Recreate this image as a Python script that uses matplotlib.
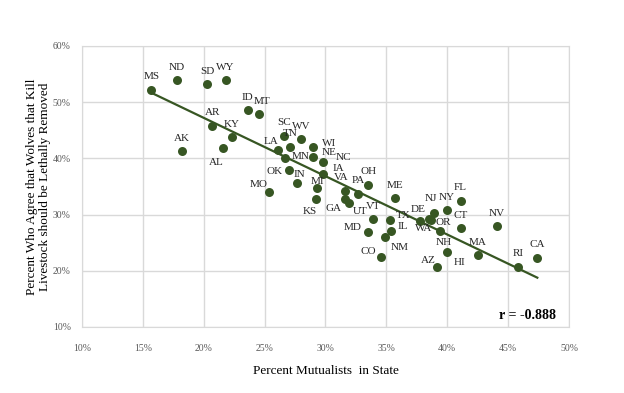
import numpy as np
import matplotlib
matplotlib.use("Agg")
import matplotlib.pyplot as plt
from matplotlib.ticker import PercentFormatter

plt.rcParams['font.family'] = ['Liberation Serif', 'DejaVu Serif']

# state, percent mutualists, percent agree lethal removal
states = ['MS', 'ND', 'SD', 'WY', 'ID', 'MT', 'AR', 'KY', 'AK', 'AL',
          'SC', 'TN', 'WV', 'LA', 'MN', 'WI', 'NE', 'NC', 'IA', 'OK',
          'IN', 'MO', 'MI', 'KS', 'VA', 'PA', 'OH', 'GA', 'UT', 'VT',
          'ME', 'MD', 'TX', 'IL', 'NM', 'CO', 'DE', 'NJ', 'NY', 'CT',
          'FL', 'WA', 'OR', 'NH', 'AZ', 'HI', 'MA', 'NV', 'RI', 'CA']
mutualists = [15.7, 17.8, 20.3, 21.8, 23.6, 24.5, 20.7, 22.3, 18.2, 21.6,
              26.6, 27.1, 28.0, 26.1, 26.7, 29.0, 29.0, 29.8, 29.8, 27.0,
              27.7, 25.4, 29.3, 29.2, 31.6, 32.7, 33.5, 31.6, 31.9, 33.9,
              35.7, 33.5, 35.3, 35.4, 34.9, 34.6, 37.8, 38.9, 40.0, 41.1,
              41.1, 38.7, 39.4, 40.0, 39.2, 38.5, 42.5, 44.1, 45.8, 47.4]
agree = [52.2, 53.9, 53.2, 53.9, 48.6, 47.9, 45.8, 43.8, 41.3, 41.8,
         44.0, 42.1, 43.4, 41.5, 40.1, 42.0, 40.3, 39.4, 37.3, 37.9,
         35.7, 34.1, 34.7, 32.8, 34.2, 33.7, 35.3, 32.7, 32.1, 29.2,
         32.9, 26.9, 29.0, 27.1, 26.0, 22.5, 28.9, 30.2, 30.8, 27.6,
         32.5, 29.0, 27.0, 23.4, 20.7, 29.3, 22.8, 27.9, 20.7, 22.3]
r_value = -0.888

# label offsets in pixels (dx, dy), default is above the dot
label_offsets = {
    'MT': (3, 12), 'AL': (-7, -14), 'LA': (-7, 8), 'MN': (15, 1),
    'WI': (16, 4), 'NE': (16, 4), 'NC': (20, 4), 'IA': (15, 5),
    'OK': (-14, -1), 'IN': (2, 8), 'MO': (-11, 7), 'MI': (0, 7),
    'KS': (-6, -13), 'VA': (-4, 13), 'GA': (-11, -9), 'UT': (12, -9),
    'MD': (-15, 4), 'TX': (13, 5), 'IL': (12, 4), 'NM': (15, -10),
    'CO': (-13, 5), 'DE': (-2, 11), 'NJ': (-3, 15), 'WA': (-8, -8),
    'OR': (3, 9), 'NH': (-3, 9), 'AZ': (-9, 6), 'HI': (31, -44),
}

green = '#375623'
fig = plt.figure(figsize=(6.24, 3.93), dpi=100)
ax = fig.add_axes([0.1314, 0.168, 0.7804, 0.715])

x = np.array(mutualists)
y = np.array(agree)
ax.scatter(x, y, s=42, color=green, zorder=3, linewidths=0)

slope, icpt = np.polyfit(x, y, 1)
xs = np.array([x.min(), x.max()])
ax.plot(xs, slope * xs + icpt, color=green, lw=1.6, zorder=2)

for st, xv, yv in zip(states, mutualists, agree):
    dx, dy = label_offsets.get(st, (0, 13))
    ax.annotate(st, (xv, yv), xytext=(dx, dy), textcoords='offset pixels',
                ha='center', va='center', fontsize=8, color='#262626', zorder=4)

ax.set_xlim(10, 50)
ax.set_ylim(10, 60)
ax.set_xticks(np.arange(10, 51, 5))
ax.set_yticks(np.arange(10, 61, 10))
ax.xaxis.set_major_formatter(PercentFormatter(decimals=0))
ax.yaxis.set_major_formatter(PercentFormatter(decimals=0))
ax.tick_params(length=0, labelsize=7, labelcolor='#595959')
ax.tick_params(axis='x', pad=12)
ax.tick_params(axis='y', pad=8)
ax.grid(True, color='#d9d9d9', lw=1)
ax.set_axisbelow(True)
for sp in ax.spines.values():
    sp.set_color('#d9d9d9')

ax.set_xlabel('Percent Mutualists  in State', fontsize=9.5, labelpad=9)
ax.set_ylabel('Percent Who Agree that Wolves that Kill\nLivestock should be Lethally Removed',
              fontsize=9.5, labelpad=1)
ax.text(0.973, 0.018, 'r = %.3f' % r_value, transform=ax.transAxes,
        ha='right', va='bottom', fontsize=10, fontweight='bold')

fig.savefig('out.png', dpi=100)
